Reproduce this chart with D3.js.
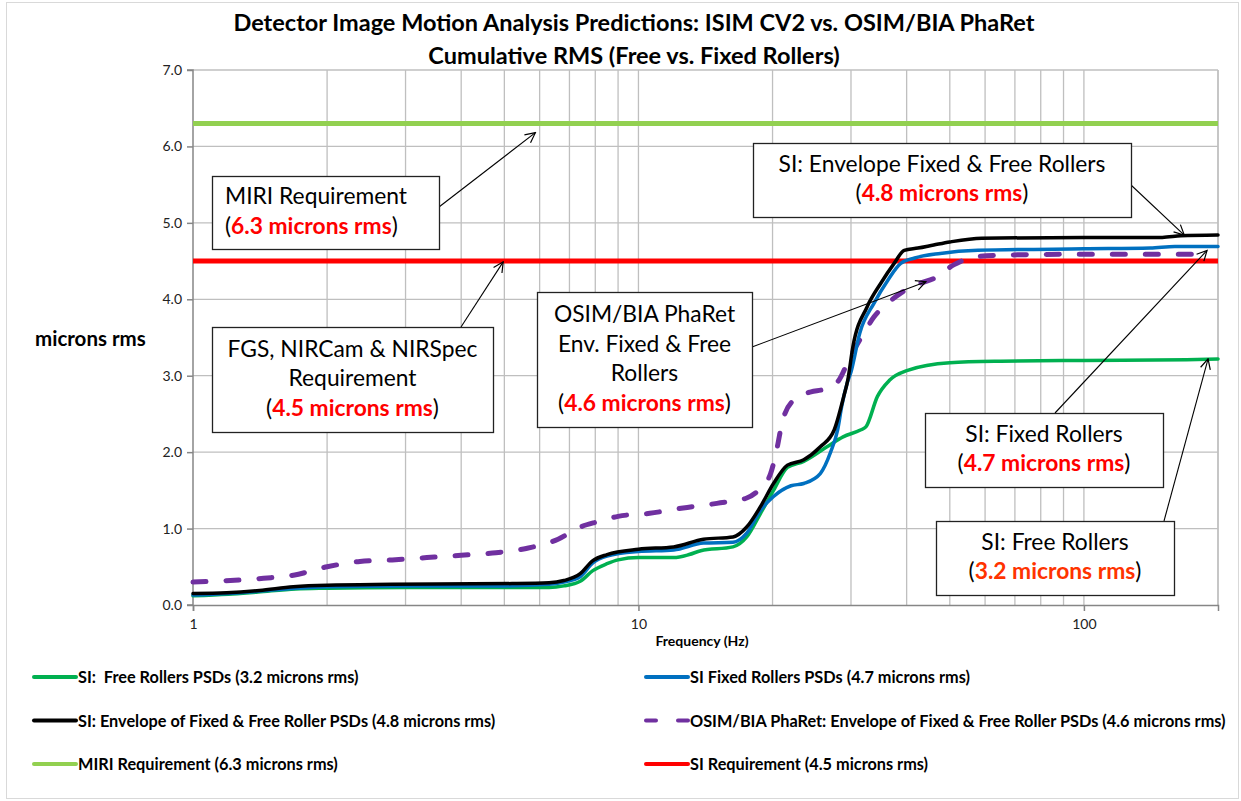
<!DOCTYPE html>
<html>
<head>
<meta charset="utf-8">
<script src="https://cdn.jsdelivr.net/npm/d3@7"></script>
<style>
  body { margin: 0; background: #fff; }
  svg { display: block; font-family: Lato, "Open Sans", sans-serif; }
  text { white-space: pre; }
</style>
</head>
<body>
<svg id="chart" width="1241" height="801"></svg>
<script>
// cumulative rms curves, [frequency Hz, microns rms]
const freeRollers = [[1,0.12],[1.2,0.14],[1.4,0.17],[1.7,0.21],[2,0.22],[3,0.23],[5,0.23],[6.3,0.23],[6.8,0.25],[7.4,0.31],[7.9,0.45],[8.5,0.54],[9,0.59],[10,0.62],[12,0.62],[13,0.66],[13.8,0.71],[16.3,0.76],[17.5,0.89],[18.8,1.2],[20.1,1.5],[21.6,1.8],[23.5,1.88],[26.5,2.07],[28.8,2.2],[31.5,2.29],[32.4,2.33],[34.4,2.73],[36.6,2.94],[40.2,3.07],[50,3.17],[65,3.19],[100,3.2],[170,3.21],[200,3.22]];
const fixedRollers = [[1,0.13],[1.2,0.15],[1.4,0.18],[1.7,0.22],[2,0.24],[3,0.25],[5,0.25],[6.3,0.27],[6.8,0.3],[7.4,0.37],[7.9,0.55],[8.5,0.64],[10,0.7],[12,0.72],[14,0.81],[16.3,0.82],[17.5,0.94],[18.8,1.24],[20.1,1.42],[22,1.56],[23.5,1.59],[25.6,1.72],[27,2.0],[28,2.29],[28.6,2.6],[29.4,2.9],[30,3.05],[31.4,3.56],[33.8,3.95],[36.3,4.25],[38.8,4.47],[41.7,4.54],[47.6,4.6],[57.8,4.64],[100,4.66],[141,4.67],[160,4.69],[200,4.69]];
const envelope = [[1,0.15],[1.19,0.16],[1.41,0.19],[1.68,0.24],[2,0.26],[2.8,0.27],[5.2,0.28],[6.3,0.29],[6.8,0.32],[7.4,0.41],[7.9,0.58],[8.5,0.66],[10,0.73],[12,0.76],[14,0.86],[16.3,0.89],[17.5,1.02],[18.8,1.29],[20.1,1.59],[21.6,1.83],[23.5,1.9],[25.6,2.07],[27.5,2.29],[28.9,2.73],[29.5,2.94],[30.3,3.38],[32.6,3.9],[35,4.21],[37.5,4.47],[39.5,4.64],[42.4,4.67],[46,4.71],[50,4.75],[59,4.8],[100,4.81],[150,4.81],[165,4.83],[200,4.84]];
const osimEnvelope = [[1,0.3],[1.44,0.35],[1.68,0.39],[2,0.5],[2.37,0.57],[2.8,0.59],[3.35,0.62],[4,0.65],[4.7,0.68],[5.6,0.74],[6.6,0.86],[7.4,1.02],[8.1,1.09],[9,1.16],[10.6,1.2],[12.6,1.27],[15,1.33],[17.5,1.4],[18.8,1.53],[19.8,1.72],[20.5,2.07],[21,2.38],[22.3,2.68],[24.4,2.79],[26,2.82],[28,2.92],[29.9,3.25],[32,3.55],[33.8,3.77],[36.3,3.95],[38.8,4.08],[42.9,4.21],[46,4.27],[51,4.45],[57.8,4.56],[68,4.58],[100,4.59],[175,4.59]];

const miriRequirement = 6.3;
const siRequirement = 4.5;

const yTicks = [0, 1, 2, 3, 4, 5, 6, 7];
const xTicks = [1, 10, 100];

const legendLabels = [
  'SI:  Free Rollers PSDs (3.2 microns rms)',
  'SI Fixed Rollers PSDs (4.7 microns rms)',
  'SI: Envelope of Fixed & Free Roller PSDs (4.8 microns rms)',
  'OSIM/BIA PhaRet: Envelope of Fixed & Free Roller PSDs (4.6 microns rms)',
  'MIRI Requirement (6.3 microns rms)',
  'SI Requirement (4.5 microns rms)'
];

const svg = d3.select('#chart');
const x = d3.scaleLog().domain([1, 200]).range([193, 1218]);
const y = d3.scaleLinear().domain([0, 7]).range([605, 70]);

// outer frame
svg.append('rect').attr('x', 6.5).attr('y', 2.5).attr('width', 1232).attr('height', 796)
  .attr('fill', 'none').attr('stroke', '#d9d9d9');

// title
svg.append('text').attr('x', 634).attr('y', 31).attr('text-anchor', 'middle')
  .attr('font-size', 23.5).attr('font-weight', 'bold').text('Detector Image Motion Analysis Predictions: ISIM CV2 vs. OSIM/BIA PhaRet');
svg.append('text').attr('x', 634).attr('y', 64).attr('text-anchor', 'middle')
  .attr('font-size', 23.5).attr('font-weight', 'bold').text('Cumulative RMS (Free vs. Fixed Rollers)');

// grid
const minorX = [];
[1, 10, 100].forEach((d) => { for (let k = 1; k < 10; k++) if (d * k <= 200) minorX.push(d * k); });
const grid = svg.append('g').attr('stroke', '#bfbfbf').attr('stroke-width', 1.3);
grid.selectAll('line.v').data(minorX.filter((f) => f > 1)).join('line')
  .attr('x1', (d) => x(d)).attr('x2', (d) => x(d)).attr('y1', y(7)).attr('y2', y(0));
grid.selectAll('line.h').data(yTicks.filter((v) => v > 0)).join('line')
  .attr('x1', x(1)).attr('x2', x(200)).attr('y1', (d) => y(d)).attr('y2', (d) => y(d));
grid.append('line').attr('x1', x(200)).attr('x2', x(200)).attr('y1', y(7)).attr('y2', y(0));

// axes
const yAxis = svg.append('g').attr('transform', `translate(${x(1)},0)`)
  .call(d3.axisLeft(y).tickValues(yTicks).tickFormat(d3.format('.1f')).tickSize(6).tickPadding(5));
const xAxis = svg.append('g').attr('transform', `translate(0,${y(0)})`)
  .call(d3.axisBottom(x).tickValues(xTicks).tickFormat(d3.format('d')).tickSize(6).tickPadding(8));
[yAxis, xAxis].forEach((a) => {
  a.select('.domain').attr('stroke', '#868686').attr('stroke-width', 1.5);
  a.selectAll('.tick line').attr('stroke', '#868686').attr('stroke-width', 1.5);
  a.selectAll('.tick text').attr('font-family', 'Lato, sans-serif').attr('font-size', 14).attr('fill', '#222');
});
yAxis.select('.domain').attr('d', `M-6,${y(7)}H0V${y(0)}H-6`);

svg.append('text').attr('x', 35).attr('y', 346).attr('font-size', 20.5).attr('font-weight', 'bold').text('microns rms');
svg.append('text').attr('x', 702).attr('y', 646).attr('text-anchor', 'middle').attr('font-size', 14)
  .attr('font-weight', 'bold').text('Frequency (Hz)');

// requirement lines
svg.append('line').attr('x1', x(1)).attr('x2', x(200)).attr('y1', y(miriRequirement)).attr('y2', y(miriRequirement))
  .attr('stroke', '#92d050').attr('stroke-width', 5);
svg.append('line').attr('x1', x(1)).attr('x2', x(200)).attr('y1', y(siRequirement)).attr('y2', y(siRequirement))
  .attr('stroke', '#ff0000').attr('stroke-width', 5);

const line = d3.line().x((d) => x(d[0])).y((d) => y(d[1])).curve(d3.curveMonotoneX);
const series = [
  { data: osimEnvelope, color: '#7030a0', width: 5, dash: '13,20' },
  { data: freeRollers, color: '#00b050', width: 3.5 },
  { data: fixedRollers, color: '#0070c0', width: 3.5 },
  { data: envelope, color: '#000000', width: 3.5 }
];
svg.append('g').selectAll('path').data(series).join('path')
  .attr('d', (d) => line(d.data))
  .attr('fill', 'none')
  .attr('stroke', (d) => d.color)
  .attr('stroke-width', (d) => d.width)
  .attr('stroke-linecap', 'round')
  .attr('stroke-linejoin', 'round')
  .attr('stroke-dasharray', (d) => d.dash || null);

// callouts
svg.append('defs').append('marker').attr('id', 'arrow').attr('viewBox', '0 0 12 12')
  .attr('refX', 11).attr('refY', 6).attr('markerWidth', 12).attr('markerHeight', 12)
  .attr('markerUnits', 'userSpaceOnUse').attr('orient', 'auto')
  .append('path').attr('d', 'M1,1L11,6L1,11').attr('fill', 'none').attr('stroke', '#000').attr('stroke-width', 1.2);

const callouts = [
  { box: [212, 176, 227, 73], anchor: 'start', tx: 225, lines: ['MIRI Requirement'], value: '6.3 microns rms', red: '#ff0000', from: [439, 207], to: [5.87, 6.18] },
  { box: [212, 327, 281, 105], anchor: 'middle', lines: ['FGS, NIRCam & NIRSpec', 'Requirement'], value: '4.5 microns rms', red: '#ff0000', from: [461, 327], to: [4.97, 4.49] },
  { box: [537, 292, 215, 135], anchor: 'middle', lines: ['OSIM/BIA PhaRet', 'Env. Fixed & Free', 'Rollers'], value: '4.6 microns rms', red: '#ff0000', from: [752, 347], to: [44.2, 4.23] },
  { box: [753, 143, 378, 74], anchor: 'middle', lines: ['SI: Envelope Fixed & Free Rollers'], value: '4.8 microns rms', red: '#ff0000', from: [1131, 185], to: [168, 4.84] },
  { box: [925, 413, 238, 74], anchor: 'middle', lines: ['SI: Fixed Rollers'], value: '4.7 microns rms', red: '#ff0000', from: [1055, 413], to: [189, 4.64] },
  { box: [936, 521, 238, 74], anchor: 'middle', lines: ['SI: Free Rollers'], value: '3.2 microns rms', red: '#ff3300', from: [1164, 521], to: [190, 3.22] }
];

callouts.forEach((c) => {
  const [bx, by, bw, bh] = c.box;
  svg.append('line').attr('x1', c.from[0]).attr('y1', c.from[1])
    .attr('x2', x(c.to[0])).attr('y2', y(c.to[1]))
    .attr('stroke', '#000').attr('stroke-width', 1.1).attr('marker-end', 'url(#arrow)');
  svg.append('rect').attr('x', bx + 0.5).attr('y', by + 0.5).attr('width', bw).attr('height', bh)
    .attr('fill', '#fff').attr('stroke', '#222').attr('stroke-width', 1.3);
  const tx = c.anchor === 'middle' ? bx + bw / 2 : c.tx;
  const n = c.lines.length + 1;
  const top = by + bh / 2 - (n - 1) * 14.5 + 6;
  c.lines.forEach((t, i) => {
    svg.append('text').attr('x', tx).attr('y', top + i * 29.5).attr('text-anchor', c.anchor)
      .attr('font-size', 22.8).attr('fill', '#000').text(t);
  });
  const last = svg.append('text').attr('x', tx).attr('y', top + (n - 1) * 29.5)
    .attr('text-anchor', c.anchor).attr('font-size', 22.8);
  last.append('tspan').text('(');
  last.append('tspan').attr('fill', c.red).attr('font-weight', 'bold').text(c.value);
  last.append('tspan').text(')');
});

// legend
const legendItems = [
  { color: '#00b050', col: 0, row: 0 },
  { color: '#0070c0', col: 1, row: 0 },
  { color: '#000000', col: 0, row: 1 },
  { color: '#7030a0', col: 1, row: 1, dash: '10,22' },
  { color: '#92d050', col: 0, row: 2 },
  { color: '#ff0000', col: 1, row: 2 }
];
const legend = svg.append('g');
legendItems.forEach((d, i) => {
  const lx = d.col === 0 ? 34 : 646;
  const ly = 677 + d.row * 43.5;
  legend.append('line').attr('x1', lx).attr('x2', lx + 42).attr('y1', ly).attr('y2', ly)
    .attr('stroke', d.color).attr('stroke-width', 4).attr('stroke-linecap', 'round')
    .attr('stroke-dasharray', d.dash || null);
  legend.append('text').attr('x', lx + 44).attr('y', ly + 6).attr('font-size', 16.3)
    .attr('font-weight', 'bold').text(legendLabels[i]);
});
</script>
</body>
</html>
